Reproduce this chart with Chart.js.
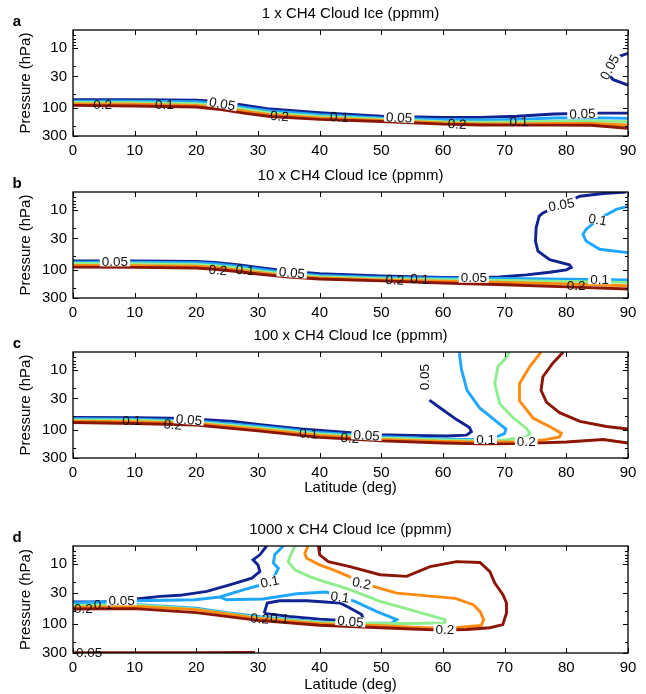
<!DOCTYPE html>
<html>
<head>
<meta charset="utf-8">
<script src="https://cdn.jsdelivr.net/npm/chart.js@4.4.1/dist/chart.umd.min.js"></script>
<style>
html, body { margin: 0; padding: 0; background: #fff; }
#wrap { position: relative; width: 646px; height: 694px; }
#wrap canvas { position: absolute; left: 0; }
</style>
</head>
<body>
<div id="wrap">
<canvas id="pa" width="646" height="163" style="top:0px"></canvas>
<canvas id="pb" width="646" height="162" style="top:163px"></canvas>
<canvas id="pc" width="646" height="175" style="top:325px"></canvas>
<canvas id="pd" width="646" height="194" style="top:500px"></canvas>
</div>
<script>
(function () {

/* ---------- axes ---------- */
const latTicks = [0, 10, 20, 30, 40, 50, 60, 70, 80, 90];
const presTicks = [10, 30, 100, 300];
const presMinor = [6, 7, 8, 9, 20, 60, 200];
const levels = ['0.05', '0.1', '0.15', '0.2', '0.25'];

/* ---------- contours: [latitude, pressure] ---------- */
// 1 x CH4
const a05 = [[0,74],[10,74],[20,75],[24,80],[28,92],[32,106],[40,122],[50,140],[60,146],[66,146],[72,140],[78,128],[84,124],[90,124]];
const a05top = [[90,12.3],[88.6,13.8],[87.4,16.5],[86.6,21],[86.8,28],[87.6,34],[90,42]];
const a10 = [[0,78],[10,78],[20,80],[24,86],[28,100],[32,114],[40,132],[50,150],[60,160],[66,162],[72,158],[78,150],[84,148],[90,152]];
const a15 = [[0,82],[10,83],[20,86],[24,93],[28,108],[32,123],[40,141],[50,157],[60,172],[66,176],[72,175],[78,170],[84,168],[90,172]];
const a20 = [[0,87],[10,88],[20,92],[24,100],[28,116],[32,132],[40,150],[50,164],[60,182],[66,188],[72,188],[78,185],[84,185],[90,196]];
const a25 = [[0,92],[10,94],[20,98],[24,108],[28,125],[32,141],[40,158],[50,171],[60,190],[66,196],[72,197],[78,197],[84,198],[90,222]];

// 10 x CH4
const b05 = [[0,71.5],[10,72],[20,73],[23,76],[27,84],[30,92],[35,107],[40,117],[50,128],[60,135],[66,136],[69.2,133],[73.5,123],[77.3,111],[80,101],[80.8,92],[80.5,83],[77.3,68],[75.4,49],[75,33.5],[75.1,20],[75.6,12.7],[76.2,11.2],[79.2,8.1],[82.2,5.9],[86,5.3],[89.7,5]];
const b10 = [[0,75],[10,75.5],[20,77],[23,80],[27,89],[30,98],[35,114],[40,125],[50,135],[60,140],[70,141],[80,145],[90,150]];
const b10top = [[90,8.7],[88.1,9.8],[85.1,14.4],[83.2,21.2],[82.7,25.6],[83.2,33.2],[85.4,45.6],[90,52]];
const b15 = [[0,79],[10,80],[20,82],[23,86],[27,95],[30,105],[35,121],[40,132],[50,142],[60,148],[70,152],[80,158],[90,164]];
const b20 = [[0,85],[10,86],[20,88],[23,92],[27,102],[30,112],[35,128],[40,138],[50,149],[60,157],[70,165],[80,175],[90,187]];
const b25 = [[0,91],[10,92],[20,94],[23,99],[27,109],[30,119],[35,134],[40,144],[50,155],[60,168],[70,180],[80,195],[90,212]];

// 100 x CH4
const c05 = [[0,62.6],[10,63],[16,64.3],[21.5,68],[26,73],[30,82],[37,98],[45,113],[50,122],[55,125],[60.5,128],[63.8,124],[64.6,108.7],[64.3,92.7],[62.2,68],[59.5,43],[57.8,32]];
const c10 = [[0,66],[10,67],[20,72],[30,88],[40,112],[50,132],[60,144],[65.4,148],[67,146],[69.2,127],[70,116],[70.2,98],[68.6,72.5],[65.9,43],[63.9,22],[63,9.9],[62.7,5.8],[62.7,5]];
const c15 = [[0,69],[10,70],[20,75],[30,93],[40,118],[50,138],[60,150],[66,154],[70,150],[73.5,133],[74.1,116],[73.5,95],[71.4,64],[69.2,37],[68.4,17],[68.9,8.7],[70,6.7],[70.8,5]];
const c20 = [[0,72.6],[10,74],[20,79],[30,99],[40,126],[50,146],[60,158],[66,162],[73.5,161],[76.2,150],[78.9,133],[79.2,116],[77.8,95],[74.6,64],[72.4,33],[72.4,17],[74.1,8.7],[75.9,5]];
const c25 = [[0,76],[10,79],[20,84],[30,105],[40,135],[50,155],[60,168],[66,174],[72,172],[80,162],[86,147],[90,168]];
const c25top = [[79.5,5],[77.8,7.7],[76.2,13],[75.9,22],[76.8,35],[78.9,52],[82.2,73],[86.5,89],[90,98]];

// 1000 x CH4
const d05 = [[0,42.6],[5,42],[10.3,38],[14.1,34.4],[17.3,33],[21.7,28.4],[25.4,22.1],[29,17.1],[30.3,13.3],[30,10.3],[29.2,8.5],[30.3,7],[31.4,5]];
const d05in = [[31,66],[31.5,44.3],[33.5,40.6],[37.9,40.6],[43.3,44.3],[44.9,53.5],[46.8,69],[47.1,81],[45,88],[40,82],[35,74],[31,66]];
const d10 = [[0,44.3],[9.8,40.6],[19.8,39.1],[23.8,35.2],[27.6,26.7],[30,22.9],[31.9,19.4],[32.8,15],[33.3,11.7],[32.5,9.6],[32.7,7],[34.1,5]];
const d10in = [[23.8,35.2],[24.9,39.2],[30.8,38],[36.3,31.1],[41.1,29.1],[43.3,35],[45.7,41.6],[49.2,61],[52.5,83.5],[51.7,95],[47,97],[40,91],[31,76],[25,64],[20,54],[10,47],[0,47]];
const d15 = [[36,5],[35.2,7.5],[34.9,9.1],[36,12.5],[38.4,16.1],[40.6,19.4],[43.3,23.5],[44.9,26.6],[49.8,41.6],[54.6,57],[60.3,83.5],[60.3,94.6],[55,97],[50,97],[40,93],[30,78],[20,56],[10,47.5],[0,48.4]];
const d20 = [[38.1,5],[37.6,6.6],[37.9,8],[40,10.3],[42.2,12.5],[45.4,17.1],[46.8,20.6],[48.7,23.5],[52.5,30.3],[57.9,34],[62,37],[64.9,47.2],[66,61.2],[66.6,83.5],[66.2,105],[61.9,114],[60.3,117],[55,112],[50,106],[40,98],[30,80],[20,57],[10,50.4],[0,52.3]];
const d25 = [[39.8,5],[40,7],[41.4,9.1],[44.9,11],[49.8,15],[54.1,16],[57.9,11],[62.2,9.1],[66,9.4],[67.6,13.3],[68.4,20.6],[69.7,32],[70.3,44.3],[70.3,64.8],[69.7,101],[67.6,114],[63.8,122],[59.5,125],[55,120],[50,114],[40,104],[30,86],[20,64],[10,55],[0,55.7]];
const d25low = [[0,296],[10,296],[20,296],[29.5,295]];

/* ---------- inline contour labels: [text, lat, pressure, angle, cut line] ---------- */
const labelsA = [
  ['0.2', 4.8, 89, 0, false], ['0.1', 14.8, 88, 0, false], ['0.05', 24.2, 86, 10, true],
  ['0.2', 33.5, 138, 5, false], ['0.1', 43.2, 143, 3, false], ['0.05', 52.9, 146, 3, true],
  ['0.2', 62.3, 188, 3, false], ['0.1', 72.3, 167, 0, false], ['0.05', 82.6, 126, -2, true],
  ['0.05', 87.0, 21, -62, true]
];
const labelsB = [
  ['0.05', 6.8, 73, 0, true], ['0.2', 23.5, 101, 5, false], ['0.1', 27.9, 101, 5, false],
  ['0.05', 35.5, 112, 5, true], ['0.2', 52.2, 148, 3, false], ['0.1', 56.2, 143, 3, false],
  ['0.05', 65, 137, 0, true], ['0.1', 85.4, 146, 0, true], ['0.2', 81.6, 184, 0, false],
  ['0.05', 79.2, 8.1, -10, true], ['0.1', 85.1, 14.4, 10, true]
];
const labelsC = [
  ['0.1', 9.5, 71, 0, false], ['0.2', 16.2, 82, 5, false], ['0.05', 18.8, 68, 5, true],
  ['0.1', 38.2, 116, 5, false], ['0.2', 44.9, 138, 3, false], ['0.05', 47.6, 124, 3, true],
  ['0.05', 56.9, 13.2, -90, false], ['0.1', 66.9, 144, 0, true], ['0.2', 73.5, 160, 0, true]
];
const labelsD = [
  ['0.2', 1.7, 53.5, 0, false], ['0.1', 4.9, 47.2, 0, false], ['0.05', 7.9, 40, 0, true],
  ['0.1', 31.9, 19.4, -12, true], ['0.2', 46.8, 20.6, 12, true], ['0.1', 43.3, 35, 8, true],
  ['0.2', 30.3, 80, 5, false], ['0.1', 33.5, 78.7, 5, false], ['0.05', 45, 89, 5, true],
  ['0.2', 60.3, 119, 0, true], ['0.05', 2.6, 292, 0, false]
];

const levelColors = ['#0f2391', '#1fa6ff', '#8eee8e', '#ff8a10', '#8c1606'];
const fontFamily = '"Liberation Sans", Arial, Helvetica, sans-serif';

Chart.defaults.font.family = fontFamily;
Chart.defaults.color = '#000';

/* ---------- frame, inward ticks, titles ---------- */
const frame = {
  id: 'frame',
  afterDraw(chart, args, opts) {
    const {ctx, chartArea: {left, right, top, bottom}, scales: {x, y}} = chart;
    ctx.save();
    ctx.strokeStyle = '#000';
    ctx.lineWidth = 1.3;
    ctx.strokeRect(left, top, right - left, bottom - top);
    ctx.lineWidth = 1;
    ctx.beginPath();
    latTicks.forEach(v => {
      const px = Math.round(x.getPixelForValue(v)) + 0.5;
      ctx.moveTo(px, bottom); ctx.lineTo(px, bottom - 5);
      ctx.moveTo(px, top); ctx.lineTo(px, top + 5);
    });
    presTicks.forEach(v => {
      const py = Math.round(y.getPixelForValue(v)) + 0.5;
      ctx.moveTo(left, py); ctx.lineTo(left + 5, py);
      ctx.moveTo(right, py); ctx.lineTo(right - 5, py);
    });
    presMinor.forEach(v => {
      const py = Math.round(y.getPixelForValue(v)) + 0.5;
      ctx.moveTo(left, py); ctx.lineTo(left + 3, py);
      ctx.moveTo(right, py); ctx.lineTo(right - 3, py);
    });
    ctx.stroke();

    ctx.fillStyle = '#000';
    ctx.textAlign = 'center';
    ctx.textBaseline = 'middle';
    ctx.font = '15px ' + fontFamily;
    ctx.fillText(opts.title, (left + right) / 2, top - 16);
    ctx.font = 'bold 15px ' + fontFamily;
    ctx.fillText(opts.letter, 17, top - 8);
    ctx.restore();
  }
};

const contourLabels = {
  id: 'contourLabels',
  afterDatasetsDraw(chart, args, opts) {
    const {ctx, scales: {x, y}} = chart;
    ctx.save();
    ctx.font = '13.5px ' + fontFamily;
    ctx.textAlign = 'center';
    ctx.textBaseline = 'middle';
    opts.items.forEach(([txt, lat, p, ang, cut]) => {
      ctx.save();
      ctx.translate(x.getPixelForValue(lat), y.getPixelForValue(p));
      ctx.rotate(ang * Math.PI / 180);
      if (cut) {
        const w = ctx.measureText(txt).width + 4;
        ctx.fillStyle = '#fff';
        ctx.fillRect(-w / 2, -5, w, 10);
      }
      ctx.fillStyle = '#111';
      ctx.fillText(txt, 0, 1);
      ctx.restore();
    });
    ctx.restore();
  }
};

function makePanel(id, cfg) {
  const datasets = cfg.lines.map(([pts, lvl]) => ({
    data: pts.map(([lat, p]) => ({x: lat, y: p})),
    borderColor: levelColors[lvl],
    borderWidth: 2.9,
    pointRadius: 0,
    showLine: true,
    tension: 0,
    label: levels[lvl]
  }));

  return new Chart(document.getElementById(id), {
    type: 'scatter',
    data: {datasets},
    options: {
      responsive: false,
      animation: false,
      layout: {padding: {top: cfg.top, right: 18, left: 0, bottom: 0}},
      scales: {
        x: {
          type: 'linear', min: 0, max: 90,
          afterBuildTicks: s => { s.ticks = latTicks.map(v => ({value: v})); },
          afterFit: s => { s.height = cfg.xH; },
          ticks: {padding: 6, maxRotation: 0, autoSkip: false, font: {size: 15}, color: '#000'},
          grid: {display: false, drawTicks: false},
          border: {display: false},
          title: {display: !!cfg.xTitle, text: 'Latitude (deg)', font: {size: 15}, color: '#000',
                  padding: {top: 0, bottom: cfg.xTitlePad || 0}}
        },
        y: {
          type: 'logarithmic', min: 5, max: 300, reverse: true,
          afterBuildTicks: s => { s.ticks = presTicks.map(v => ({value: v})); },
          afterFit: s => { s.width = 73; },
          ticks: {padding: 6, autoSkip: false, font: {size: 15}, color: '#000', callback: v => String(v)},
          grid: {display: false, drawTicks: false},
          border: {display: false},
          title: {display: true, text: 'Pressure (hPa)', font: {size: 15}, color: '#000',
                  padding: {top: 17, bottom: 0}}
        }
      },
      plugins: {
        legend: {display: false},
        tooltip: {enabled: false},
        frame: {title: cfg.title, letter: cfg.letter},
        contourLabels: {items: cfg.labels}
      }
    },
    plugins: [contourLabels, frame]
  });
}

makePanel('pa', {
  title: '1 x CH4 Cloud Ice (ppmm)', letter: 'a', top: 30, xH: 27, labels: labelsA,
  lines: [[a25, 4], [a20, 3], [a15, 2], [a10, 1], [a05, 0], [a05top, 0]]
});
makePanel('pb', {
  title: '10 x CH4 Cloud Ice (ppmm)', letter: 'b', top: 29, xH: 27, labels: labelsB,
  lines: [[b25, 4], [b20, 3], [b15, 2], [b10, 1], [b10top, 1], [b05, 0]]
});
makePanel('pc', {
  title: '100 x CH4 Cloud Ice (ppmm)', letter: 'c', top: 27, xH: 42, labels: labelsC,
  xTitle: true, xTitlePad: 3,
  lines: [[c25, 4], [c25top, 4], [c20, 3], [c15, 2], [c10, 1], [c05, 0]]
});
makePanel('pd', {
  title: '1000 x CH4 Cloud Ice (ppmm)', letter: 'd', top: 46, xH: 41, labels: labelsD,
  xTitle: true, xTitlePad: 0,
  lines: [[d25, 4], [d25low, 4], [d20, 3], [d15, 2], [d10, 1], [d10in, 1], [d05, 0], [d05in, 0]]
});

})();
</script>
</body>
</html>
